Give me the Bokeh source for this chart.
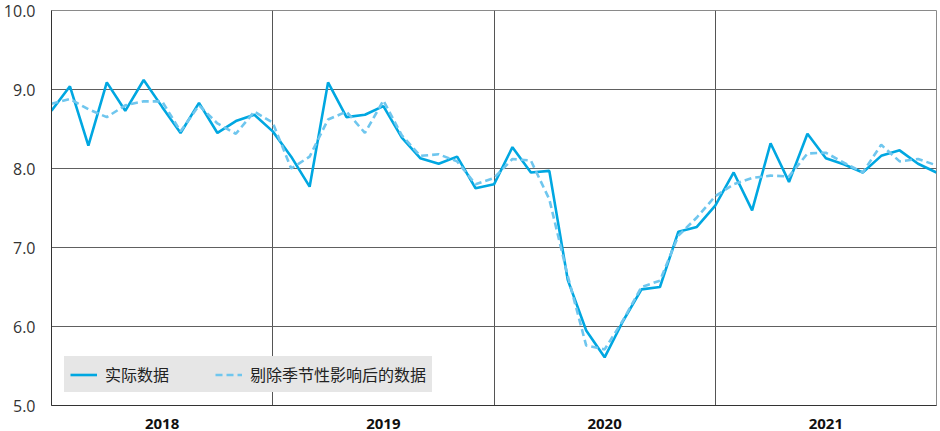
from bokeh.plotting import figure
from bokeh.models import FixedTicker, Legend, LegendItem, NumeralTickFormatter, Range1d
from bokeh.embed import file_html
from bokeh.resources import INLINE

# ---- data ----
years = ["2018", "2019", "2020", "2021"]
year_centers = [6, 18, 30, 42]
year_bounds = [12, 24, 36]
y_ticks = [5.0, 6.0, 7.0, 8.0, 9.0, 10.0]

actual = [8.73, 9.04, 8.29, 9.09, 8.73, 9.12, 8.78, 8.45, 8.83, 8.45, 8.60, 8.68,
          8.47, 8.15, 7.77, 9.09, 8.65, 8.68, 8.79, 8.39, 8.13, 8.06, 8.15, 7.75,
          7.80, 8.27, 7.95, 7.97, 6.59, 5.95, 5.61, 6.07, 6.47, 6.50, 7.20, 7.26,
          7.53, 7.95, 7.47, 8.32, 7.83, 8.44, 8.13, 8.05, 7.95, 8.16, 8.23, 8.06,
          7.95]
adjusted = [8.82, 8.88, 8.75, 8.65, 8.80, 8.85, 8.85, 8.47, 8.80, 8.57, 8.44, 8.72,
            8.58, 8.00, 8.15, 8.62, 8.72, 8.45, 8.86, 8.42, 8.16, 8.18, 8.09, 7.80,
            7.88, 8.12, 8.10, 7.61, 6.64, 5.76, 5.71, 6.08, 6.50, 6.58, 7.15, 7.38,
            7.65, 7.80, 7.88, 7.91, 7.90, 8.19, 8.20, 8.07, 7.95, 8.30, 8.09, 8.12,
            8.04]
x = list(range(len(actual)))

p = figure(width=940, height=431, output_backend="svg", toolbar_location=None,
           x_range=Range1d(0, 48), y_range=Range1d(5, 10),
           min_border_left=50, min_border_right=4, min_border_top=10, min_border_bottom=24)
p.background_fill_color = "white"
p.border_fill_color = "white"
p.outline_line_color = "#8a8a8a"
p.outline_line_width = 1

# grids
p.xgrid.ticker = FixedTicker(ticks=year_bounds)
p.xgrid.grid_line_color = "#555555"
p.xgrid.grid_line_width = 1
p.ygrid.ticker = FixedTicker(ticks=y_ticks)
p.ygrid.grid_line_color = "#606060"
p.ygrid.grid_line_width = 1

# y axis
p.yaxis.ticker = FixedTicker(ticks=y_ticks)
p.yaxis.formatter = NumeralTickFormatter(format="0.0")
p.yaxis.major_tick_line_color = None
p.yaxis.minor_tick_line_color = None
p.yaxis.major_label_standoff = 10
p.yaxis.axis_line_color = "#333333"
p.yaxis.major_label_text_font = "Open Sans"
p.yaxis.major_label_text_font_size = "16px"
p.yaxis.major_label_text_color = "#333333"

# x axis
p.xaxis.ticker = FixedTicker(ticks=year_centers)
p.xaxis.major_label_overrides = {c: y for c, y in zip(year_centers, years)}
p.xaxis.major_tick_line_color = None
p.xaxis.minor_tick_line_color = None
p.xaxis.major_label_standoff = 7
p.xaxis.axis_line_color = "#333333"
p.xaxis.major_label_text_font = "Open Sans"
p.xaxis.major_label_text_font_style = "bold"
p.xaxis.major_label_text_font_size = "15px"
p.xaxis.major_label_text_color = "#111111"

r1 = p.line(x, actual, line_color="#00a7e1", line_width=2.6)
r2 = p.line(x, adjusted, line_color="#6fc6ee", line_width=2.6, line_dash="7 4")

legend = Legend(items=[LegendItem(label="实际数据", renderers=[r1]),
                       LegendItem(label="剔除季节性影响后的数据", renderers=[r2])],
                orientation="horizontal", location="bottom_left")
legend.background_fill_color = "#e6e6e6"
legend.background_fill_alpha = 1.0
legend.border_line_color = "#e6e6e6"
legend.border_line_width = 1
legend.label_text_font = "Noto Sans CJK SC"
legend.label_text_font_size = "16px"
legend.label_text_color = "#222222"
legend.glyph_width = 27
legend.glyph_height = 17
legend.label_height = 17
legend.label_standoff = 8
legend.spacing = 46
legend.padding = 5
legend.margin = 13
p.add_layout(legend, "center")

open("out.html", "w").write(file_html(p, INLINE))
